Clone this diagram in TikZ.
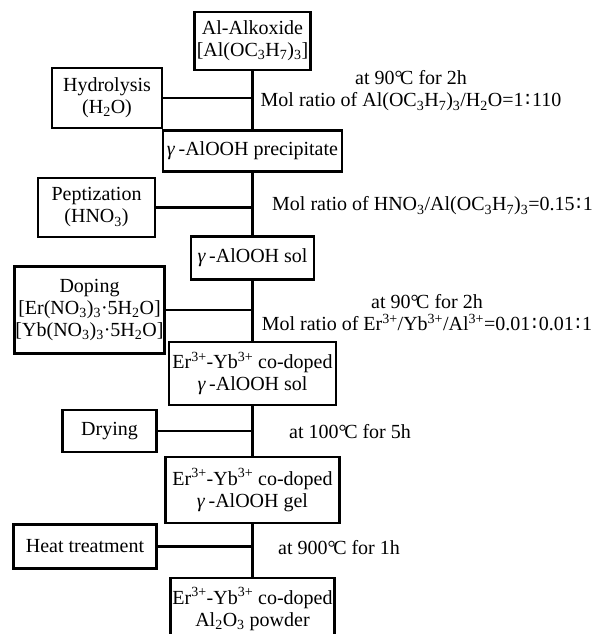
\documentclass[tikz,border=0pt]{standalone}
\usepackage{fontspec}
\setmainfont{Liberation Serif}
\newfontfamily\ratiofont{DejaVu Sans}
\newcommand{\sbs}[1]{\textsubscript{#1}}
\newcommand{\sps}[1]{\textsuperscript{#1}}
\newcommand{\degC}{°\kern-0.12em C}
\newcommand{\rat}{\kern0.08em{\ratiofont ∶}\kern0.08em}
\newcommand{\gam}{\textit{γ}\,}

\begin{document}
\begin{tikzpicture}[x=1pt, y=-1pt,
    every node/.style={font=\fontsize{20}{22}\selectfont},
    stage/.style={draw, line width=2.5pt, align=center, inner sep=1pt},
    cond/.style={align=center, inner sep=0pt},
    link/.style={line width=2.5pt}]
  \useasboundingbox (0,0) rectangle (597,634);
  % main stages
  \node[stage, minimum width=116pt, minimum height=58pt] (alkoxide) at (252.5,41) {Al-Alkoxide\\{}[Al(OC\sbs{3}H\sbs{7})\sbs{3}]};
  \node[stage, minimum width=179pt, minimum height=41pt] (precip) at (252.5,151) {\gam-AlOOH precipitate};
  \node[stage, minimum width=123pt, minimum height=43pt] (sol) at (252.5,258) {\gam-AlOOH sol};
  \node[stage, minimum width=167pt, minimum height=63pt] (ersol) at (252.5,373.5) {Er\sps{3+}-Yb\sps{3+} co-doped\\\gam-AlOOH sol};
  \node[stage, minimum width=174pt, minimum height=66pt] (gel) at (252.5,490) {Er\sps{3+}-Yb\sps{3+} co-doped\\\gam-AlOOH gel};
  \node[stage, minimum width=164pt, minimum height=62pt] (powder) at (252.5,609) {Er\sps{3+}-Yb\sps{3+} co-doped\\Al\sbs{2}O\sbs{3} powder};
  % side steps
  \node[stage, minimum width=110pt, minimum height=60pt] (hydro) at (107,98) {Hydrolysis\\(H\sbs{2}O)};
  \node[stage, minimum width=117pt, minimum height=59pt] (pept) at (96.5,207.5) {Peptization\\(HNO\sbs{3})};
  \node[stage, minimum width=149pt, minimum height=87pt] (doping) at (89.5,310) {Doping\\{}[Er(NO\sbs{3})\sbs{3}·5H\sbs{2}O]\\{}[Yb(NO\sbs{3})\sbs{3}·5H\sbs{2}O]};
  \node[stage, minimum width=94pt, minimum height=42pt] (drying) at (109.5,431) {Drying};
  \node[stage, minimum width=143pt, minimum height=44pt] (heat) at (85,546.5) {Heat treatment};
  % conditions
  \node[cond] (cond1) at (411,91) {at 90\degC{} for 2h\\Mol ratio of Al(OC\sbs{3}H\sbs{7})\sbs{3}/H\sbs{2}O=1\rat110};
  \node[cond, anchor=west] (cond2) at (272,206) {Mol ratio of HNO\sbs{3}/Al(OC\sbs{3}H\sbs{7})\sbs{3}=0.15\rat1};
  \node[cond] (cond3) at (427,313) {at 90\degC{} for 2h\\Mol ratio of Er\sps{3+}/Yb\sps{3+}/Al\sps{3+}=0.01\rat0.01\rat1};
  \node[cond, anchor=west] (cond4) at (289,431.5) {at 100\degC{} for 5h};
  \node[cond, anchor=west] (cond5) at (278,548) {at 900\degC{} for 1h};
  % main line
  \draw[link] (alkoxide) -- (precip);
  \draw[link] (precip) -- (sol);
  \draw[link] (sol) -- (ersol);
  \draw[link] (ersol) -- (gel);
  \draw[link] (gel) -- (powder);
  % side connectors
  \draw[link] (hydro.east) -- (hydro.east -| alkoxide.south);
  \draw[link] (pept.east) -- (pept.east -| alkoxide.south);
  \draw[link] (doping.east) -- (doping.east -| alkoxide.south);
  \draw[link] (drying.east) -- (drying.east -| alkoxide.south);
  \draw[link] (heat.east) -- (heat.east -| alkoxide.south);
\end{tikzpicture}
\end{document}
